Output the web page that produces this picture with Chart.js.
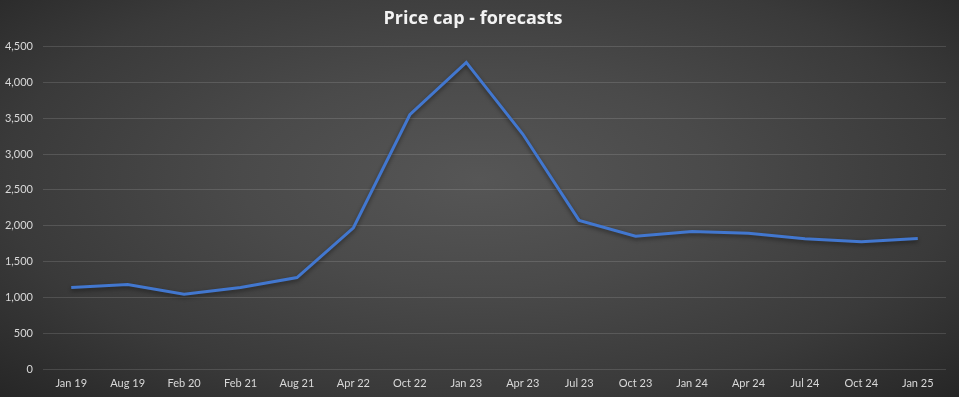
<!DOCTYPE html>
<html>
<head>
<meta charset="utf-8">
<script src="https://cdn.jsdelivr.net/npm/chart.js@4"></script>
<style>
  html, body { margin: 0; padding: 0; }
  body {
    width: 959px;
    height: 397px;
    overflow: hidden;
    background: radial-gradient(ellipse farthest-corner at 50% 45%, #565656 0%, #4a4a4a 35%, #3a3a3a 70%, #262626 100%);
  }
  #wrap { position: relative; width: 959px; height: 397px; }
  canvas { display: block; }
</style>
</head>
<body>
<div id="wrap"><canvas id="chartPrice" width="959" height="397"></canvas></div>
<script>
  // Данные графика
  const periods = ["Jan 19", "Aug 19", "Feb 20", "Feb 21", "Aug 21", "Apr 22", "Oct 22", "Jan 23",
    "Apr 23", "Jul 23", "Oct 23", "Jan 24", "Apr 24", "Jul 24", "Oct 24", "Jan 25"];
  const priceCap = [1137, 1179, 1042, 1138, 1277, 1971, 3549, 4279,
    3280, 2074, 1853, 1920, 1895, 1817, 1776, 1822];
  const yTicks = [0, 500, 1000, 1500, 2000, 2500, 3000, 3500, 4000, 4500];

  // Тень под линией
  const lineShadow = {
    id: "lineShadow",
    beforeDatasetsDraw(chart) {
      const ctx = chart.ctx;
      ctx.save();
      ctx.shadowColor = "rgba(0, 0, 0, 0.45)";
      ctx.shadowBlur = 4;
      ctx.shadowOffsetY = 2;
    },
    afterDatasetsDraw(chart) {
      chart.ctx.restore();
    },
  };

  const ctx = document.getElementById("chartPrice").getContext("2d");
  new Chart(ctx, {
    type: "line",
    data: {
      labels: periods,
      datasets: [
        {
          label: "Price cap",
          data: priceCap,
          borderColor: "#4277cf",
          borderWidth: 3,
          pointRadius: 0,
          tension: 0,
          fill: false,
        },
      ],
    },
    options: {
      responsive: false,
      animation: false,
      devicePixelRatio: 1,
      layout: { padding: { left: 0, right: 13, top: 0, bottom: 0 } },
      plugins: {
        legend: { display: false },
        tooltip: { enabled: false },
        title: {
          display: true,
          text: "Price cap - forecasts",
          color: "#f2f2f2",
          font: { family: "Open Sans", size: 18, weight: "bold" },
          padding: { top: 8, bottom: 17 },
        },
      },
      scales: {
        x: {
          offset: true,
          afterFit(scale) { scale.height = 28; },
          grid: { display: false, drawTicks: false },
          border: { display: false },
          ticks: {
            color: "#d9d9d9",
            font: { family: "Lato", size: 11 },
            padding: 8,
            maxRotation: 0,
            autoSkip: false,
          },
        },
        y: {
          min: 0,
          max: 4500,
          afterFit(scale) { scale.width = 43; },
          afterBuildTicks(scale) { scale.ticks = yTicks.map((v) => ({ value: v })); },
          grid: { color: "rgba(255, 255, 255, 0.13)", lineWidth: 1, drawTicks: false },
          border: { display: false },
          ticks: {
            color: "#d9d9d9",
            font: { family: "Lato", size: 11 },
            padding: 10,
            autoSkip: false,
            callback: (v) => v.toLocaleString("en-US"),
          },
        },
      },
    },
    plugins: [lineShadow],
  });
</script>
</body>
</html>
